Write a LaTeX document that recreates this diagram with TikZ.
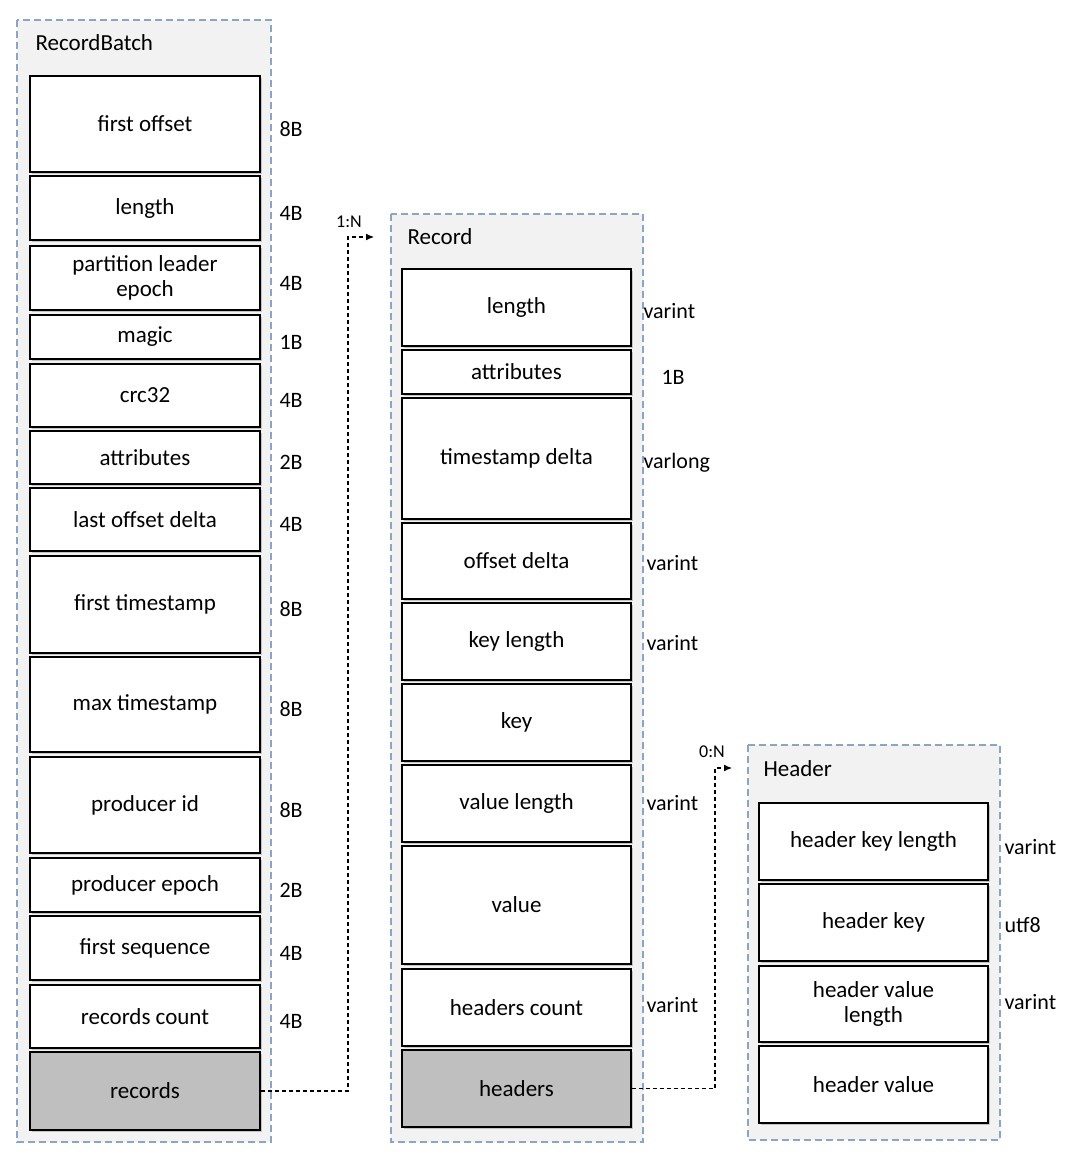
\documentclass[tikz,border=0pt]{standalone}
\usepackage{fontspec}
\setmainfont{Carlito}
\usetikzlibrary{shadows,arrows.meta}
\definecolor{contb}{RGB}{140,165,195}
\definecolor{contf}{RGB}{242,242,242}
\begin{document}
\begin{tikzpicture}[x=1pt,y=-1pt,
  cont/.style={draw=contb, dash pattern=on 7pt off 4pt, line width=1.3pt, fill=contf},
  fld/.style={draw=black, line width=1.1pt, fill=white, drop shadow={shadow xshift=2pt,shadow yshift=-2pt,opacity=0.4}, align=center, font=\fontsize{23}{25}\selectfont},
  grey/.style={fld, fill=gray!50},
  lab/.style={font=\fontsize{22}{24}\selectfont, anchor=west},
  ttl/.style={font=\fontsize{23}{25}\selectfont, anchor=west},
  conn/.style={dash pattern=on 4pt off 3pt, line width=1.1pt, -{Latex[length=8pt,width=7pt]}}]
\useasboundingbox (0,0) rectangle (1080,1155);
% containers
\path[cont] (17,20) rectangle (271,1142);
\node[ttl] (t1) at (32,43) {RecordBatch};
\path[cont] (391,214) rectangle (643,1142);
\node[ttl] (t2) at (404,237) {Record};
\path[cont] (748,745) rectangle (1000,1140);
\node[ttl] (t3) at (760,769) {Header};
% RecordBatch fields
\foreach \n/\a/\b/\t/\s in {
 f1/76/172/first offset/8B, f2/176/240/length/4B, f3/246/310/partition leader\\epoch/4B,
 f4/315/359/magic/1B, f5/364/427/crc32/4B, f6/431/484/attributes/2B,
 f7/488/551/last offset delta/4B, f8/556/653/first timestamp/8B, f9/657/752/max timestamp/8B,
 f10/757/853/producer id/8B, f11/858/912/producer epoch/2B, f12/916/980/first sequence/4B,
 f13/985/1048/records count/4B}{
  \node[fld, minimum width=230pt, minimum height={\b-\a}, inner sep=0pt] (\n) at (145,{(\a+\b)/2}) {\t};
  \node[lab] (l\n) at (276,{(\a+\b)/2+5}) {\s};
}
\node[grey, minimum width=230pt, minimum height=78pt, inner sep=0pt] (records) at (145,1091) {records};
% Record fields
\foreach \n/\a/\b/\t in {
 r1/269/346/length, r2/350/394/attributes, r3/398/519/timestamp delta, r4/523/599/offset delta,
 r5/603/680/key length, r6/684/761/key, r7/765/842/value length, r8/846/964/value, r9/969/1046/headers count}{
  \node[fld, minimum width=229pt, minimum height={\b-\a}, inner sep=0pt] (\n) at (516.5,{(\a+\b)/2}) {\t};
}
\node[grey, minimum width=229pt, minimum height=77pt, inner sep=0pt] (headers) at (516.5,1088.5) {headers};
\node[lab] (lr1) at (640,311) {varint};
\node[lab] (lr2) at (658,377) {1B};
\node[lab] (lr3) at (640,463) {varlong};
\node[lab] (lr4) at (643,563) {varint};
\node[lab] (lr5) at (643,643) {varint};
\node[lab] (lr7) at (643,803) {varint};
\node[lab] (lr9) at (643,1005) {varint};
% Header fields
\foreach \n/\a/\b/\t in {
 h1/803/880/header key length, h2/884/961/header key, h3/966/1042/header value\\length, h4/1046/1123/header value}{
  \node[fld, minimum width=229pt, minimum height={\b-\a}, inner sep=0pt] (\n) at (873.5,{(\a+\b)/2}) {\t};
}
\node[lab] (lh1) at (1001,847) {varint};
\node[lab] (lh2) at (1001,925) {utf8};
\node[lab] (lh3) at (1001,1002) {varint};
% connectors
\coordinate (a1) at (374,237);
\coordinate (a2) at (732,768);
\draw[conn] (records.east) -| (348,237) -- (a1);
\node[font=\fontsize{18}{20}\selectfont] (n1) at (349,222) {1:N};
\draw[conn] (headers.east) -| (715,768) -- (a2);
\node[font=\fontsize{18}{20}\selectfont] (n2) at (712,752) {0:N};
\end{tikzpicture}
\end{document}
